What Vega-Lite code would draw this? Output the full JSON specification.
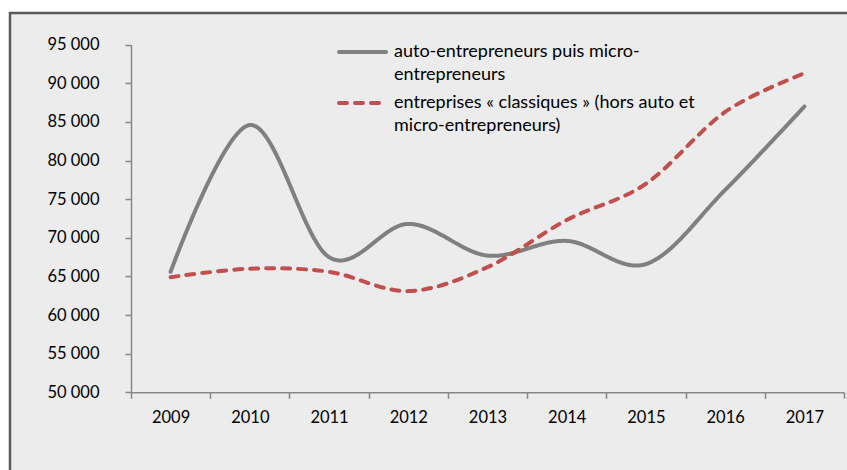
{
  "$schema": "https://vega.github.io/schema/vega-lite/v6.json",
  "width": 840,
  "height": 460,
  "autosize": {"type": "none"},
  "padding": {"left": 10, "top": 13, "right": 0, "bottom": 0},
  "background": "white",
  "config": {
    "view": {"fill": "#ececec", "stroke": "#5a5a5a", "strokeWidth": 2.5},
    "font": "Lato"
  },
  "data": {
    "values": [
      {"year": "2009", "series": "auto-entrepreneurs puis micro-entrepreneurs", "value": 65600},
      {"year": "2010", "series": "auto-entrepreneurs puis micro-entrepreneurs", "value": 84600},
      {"year": "2011", "series": "auto-entrepreneurs puis micro-entrepreneurs", "value": 67500},
      {"year": "2012", "series": "auto-entrepreneurs puis micro-entrepreneurs", "value": 71800},
      {"year": "2013", "series": "auto-entrepreneurs puis micro-entrepreneurs", "value": 67700},
      {"year": "2014", "series": "auto-entrepreneurs puis micro-entrepreneurs", "value": 69600},
      {"year": "2015", "series": "auto-entrepreneurs puis micro-entrepreneurs", "value": 66600},
      {"year": "2016", "series": "auto-entrepreneurs puis micro-entrepreneurs", "value": 76200},
      {"year": "2017", "series": "auto-entrepreneurs puis micro-entrepreneurs", "value": 87000},
      {"year": "2009", "series": "entreprises « classiques » (hors  auto et micro-entrepreneurs)", "value": 64900},
      {"year": "2010", "series": "entreprises « classiques » (hors  auto et micro-entrepreneurs)", "value": 66000},
      {"year": "2011", "series": "entreprises « classiques » (hors  auto et micro-entrepreneurs)", "value": 65600},
      {"year": "2012", "series": "entreprises « classiques » (hors  auto et micro-entrepreneurs)", "value": 63100},
      {"year": "2013", "series": "entreprises « classiques » (hors  auto et micro-entrepreneurs)", "value": 66200},
      {"year": "2014", "series": "entreprises « classiques » (hors  auto et micro-entrepreneurs)", "value": 72300},
      {"year": "2015", "series": "entreprises « classiques » (hors  auto et micro-entrepreneurs)", "value": 77000},
      {"year": "2016", "series": "entreprises « classiques » (hors  auto et micro-entrepreneurs)", "value": 86300},
      {"year": "2017", "series": "entreprises « classiques » (hors  auto et micro-entrepreneurs)", "value": 91300}
    ]
  },
  "mark": {"type": "line", "interpolate": "cardinal", "tension": 0, "strokeWidth": 4, "strokeCap": "round"},
  "encoding": {
    "x": {
      "field": "year",
      "type": "ordinal",
      "scale": {"type": "band", "range": [121, 834], "paddingInner": 0, "paddingOuter": 0},
      "axis": {
        "orient": "bottom",
        "offset": -80.7,
        "title": null,
        "tickBand": "extent",
        "labelAngle": 0,
        "tickSize": 6,
        "labelPadding": 11,
        "labelFontSize": 16.5,
        "labelColor": "#000000",
        "domainColor": "#878787",
        "tickColor": "#878787",
        "domainWidth": 1.5,
        "tickWidth": 1.5,
        "grid": false
      }
    },
    "y": {
      "field": "value",
      "type": "quantitative",
      "scale": {"domain": [50000, 95000], "range": [379.3, 31.7], "nice": false, "zero": false},
      "axis": {
        "orient": "left",
        "offset": -121,
        "title": null,
        "values": [50000, 55000, 60000, 65000, 70000, 75000, 80000, 85000, 90000, 95000],
        "labelExpr": "replace(format(datum.value, ','), ',', ' ')",
        "tickSize": 6,
        "labelPadding": 26,
        "labelFontSize": 16.5,
        "labelColor": "#000000",
        "domainColor": "#878787",
        "tickColor": "#878787",
        "domainWidth": 1.5,
        "tickWidth": 1.5,
        "grid": false
      }
    },
    "color": {
      "field": "series",
      "type": "nominal",
      "scale": {
        "domain": ["auto-entrepreneurs puis micro-entrepreneurs", "entreprises « classiques » (hors  auto et micro-entrepreneurs)"],
        "range": ["#808080", "#c0504d"]
      },
      "legend": {
        "orient": "none",
        "legendX": 343.5,
        "legendY": 30,
        "title": null,
        "symbolType": "M-4.7,0H4.7",
        "symbolSize": 100,
        "symbolStrokeWidth": 4,
        "symbolFillColor": "transparent",
        "labelFontSize": 18,
        "labelColor": "#000000",
        "labelOffset": 22.5,
        "labelLimit": 500,
        "rowPadding": 10,
        "labelExpr": "datum.label == 'auto-entrepreneurs puis micro-entrepreneurs' ? ['auto-entrepreneurs puis micro-', 'entrepreneurs'] : ['entreprises « classiques » (hors  auto et', 'micro-entrepreneurs)']",
        "encode": {
          "labels": {"update": {"lineHeight": {"value": 23}}},
          "symbols": {"update": {"strokeCap": {"value": "round"}, "fill": {"value": "transparent"}}}
        }
      }
    },
    "strokeDash": {
      "field": "series",
      "type": "nominal",
      "scale": {
        "domain": ["auto-entrepreneurs puis micro-entrepreneurs", "entreprises « classiques » (hors  auto et micro-entrepreneurs)"],
        "range": [[1, 0], [8, 8]]
      },
      "legend": {
        "orient": "none",
        "legendX": 343.5,
        "legendY": 30,
        "title": null,
        "symbolType": "M-4.7,0H4.7",
        "symbolSize": 100,
        "symbolStrokeWidth": 4,
        "symbolFillColor": "transparent",
        "labelFontSize": 18,
        "labelColor": "#000000",
        "labelOffset": 22.5,
        "labelLimit": 500,
        "rowPadding": 10,
        "labelExpr": "datum.label == 'auto-entrepreneurs puis micro-entrepreneurs' ? ['auto-entrepreneurs puis micro-', 'entrepreneurs'] : ['entreprises « classiques » (hors  auto et', 'micro-entrepreneurs)']",
        "encode": {
          "labels": {"update": {"lineHeight": {"value": 23}}},
          "symbols": {"update": {"strokeCap": {"value": "round"}, "fill": {"value": "transparent"}}}
        }
      }
    }
  }
}
